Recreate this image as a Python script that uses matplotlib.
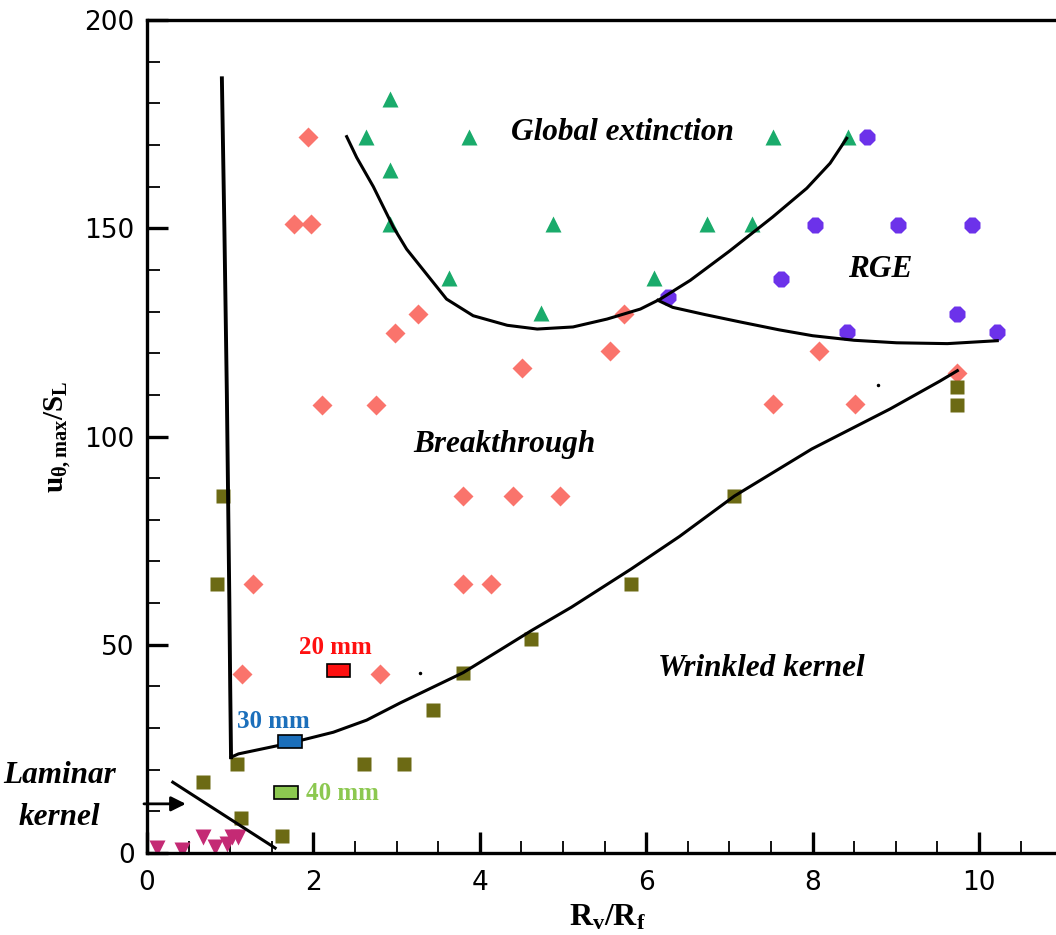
import matplotlib
matplotlib.use("Agg")
import matplotlib.pyplot as plt
from matplotlib.patches import Rectangle

# ---------------- data ----------------
# Global extinction (green up-triangles)
ge_x = [2.92, 2.63, 3.87, 2.92, 2.92, 3.63, 4.74, 4.88, 6.09, 6.73, 7.27, 7.52, 8.43]
ge_y = [181, 172, 172, 164, 151, 138, 129.6, 151, 138, 151, 151, 172, 172]

# RGE (purple circles)
rge_x = [8.65, 8.03, 9.03, 9.92, 7.62, 6.26, 9.74, 8.41, 10.22]
rge_y = [172, 150.7, 150.7, 150.7, 137.8, 133.5, 129.4, 125, 125]

# Breakthrough (salmon diamonds)
bt_x = [1.94, 1.77, 1.97, 3.26, 2.98, 4.51, 5.56, 5.73, 2.10, 2.75, 3.80, 4.40, 4.96,
        1.28, 3.80, 4.13, 8.08, 7.53, 8.51, 9.74, 1.14, 2.80]
bt_y = [172, 151, 151, 129.4, 124.8, 116.4, 120.5, 129.4, 107.5, 107.5, 85.7, 85.7, 85.7,
        64.6, 64.6, 64.6, 120.5, 107.8, 107.8, 115.2, 43, 43]

# Wrinkled kernel (olive squares)
wk_x = [0.91, 0.84, 5.82, 9.74, 9.74, 7.06, 4.62, 1.08, 0.67, 1.13, 1.62, 2.61, 3.09, 3.44, 3.80]
wk_y = [85.7, 64.6, 64.6, 111.9, 107.5, 85.7, 51.4, 21.4, 17, 8.4, 4.1, 21.4, 21.4, 34.3, 43.2]

# Laminar kernel (magenta down-triangles)
lk_x = [0.12, 0.42, 0.67, 0.82, 0.96, 1.02, 1.09]
lk_y = [1.2, 0.7, 3.8, 1.4, 2.2, 3.8, 3.8]

# Regime boundaries
vert_x = [0.90, 0.93, 0.96, 0.99, 1.00, 1.01]
vert_y = [186, 150, 110, 60, 40, 23]

wrinkle_x = [1.01, 1.10, 1.72, 2.24, 2.64, 3.04, 3.80, 4.24, 4.62, 5.10, 5.82, 6.40, 7.06, 7.99, 8.93, 9.53, 9.74]
wrinkle_y = [23.0, 23.8, 26.4, 29.0, 31.9, 36.0, 43.3, 48.7, 53.4, 59.0, 68.2, 76.0, 85.7, 97.0, 106.6, 113.3, 115.8]

lam_x = [0.31, 1.54]
lam_y = [17.0, 1.2]

ext_x = [2.40, 2.52, 2.72, 2.96, 3.12, 3.32, 3.60, 3.92, 4.33, 4.69, 5.12, 5.53, 5.93,
         6.17, 6.53, 7.00, 7.52, 7.93, 8.21, 8.41]
ext_y = [172.0, 167.0, 160.0, 150.3, 145.0, 140.0, 133.0, 129.0, 126.7, 125.8, 126.3, 128.2, 130.6,
         133.0, 137.5, 144.5, 152.7, 159.6, 165.6, 171.6]

rgeb_x = [6.14, 6.32, 6.70, 7.13, 7.60, 8.00, 8.50, 9.01, 9.62, 10.22]
rgeb_y = [132.7, 131.0, 129.3, 127.5, 125.6, 124.2, 123.1, 122.5, 122.3, 123.0]

stray_x = [3.28, 8.79]
stray_y = [43.2, 112.3]

# size labels: box extents, text, colour
box_names = ["20 mm", "30 mm", "40 mm"]
box_x0 = [2.16, 1.57, 1.53]
box_x1 = [2.44, 1.86, 1.81]
box_y0 = [42.2, 25.2, 13.0]
box_y1 = [45.3, 28.3, 16.1]
box_colors = ["#ff1010", "#1b6fbb", "#8cc850"]

x_ticks = [0, 2, 4, 6, 8, 10]
y_ticks = [0, 50, 100, 150, 200]

# ---------------- figure ----------------
plt.rcParams["mathtext.fontset"] = "custom"
plt.rcParams["mathtext.rm"] = "Liberation Serif:bold"
plt.rcParams["mathtext.it"] = "Liberation Serif:bold"
plt.rcParams["mathtext.bf"] = "Liberation Serif:bold"

W, H = 1056, 935
fig = plt.figure(figsize=(W / 100, H / 100), dpi=100)
ax = fig.add_axes([147 / W, 82 / H, (W - 147) / W, (853 - 20) / H])
ax.set_xlim(0, (W - 147) / 83.2)
ax.set_ylim(0, 200)

ax.spines["right"].set_visible(False)
for s in ["left", "bottom", "top"]:
    ax.spines[s].set_linewidth(2.4)

ax.set_xticks(x_ticks)
ax.set_yticks(y_ticks)
ax.set_xticks([v / 2 for v in range(0, 22) if v % 4 != 0], minor=True)
ax.set_yticks([v for v in range(0, 201, 10) if v % 50 != 0], minor=True)
ax.tick_params(which="major", direction="in", length=15, width=2.4, labelsize=19)
ax.tick_params(axis="x", which="major", pad=12)
ax.tick_params(axis="y", which="major", pad=9)
ax.tick_params(which="minor", direction="in", length=9, width=1.3)
for lab in ax.get_xticklabels() + ax.get_yticklabels():
    lab.set_family("DejaVu Sans")

# boundaries
lw = 2.2
ax.plot(vert_x, vert_y, color="black", lw=2.8, zorder=3)
ax.plot(wrinkle_x, wrinkle_y, color="black", lw=lw, zorder=3)
ax.plot(lam_x, lam_y, color="black", lw=lw, zorder=3)
ax.plot(ext_x, ext_y, color="black", lw=lw, zorder=3)
ax.plot(rgeb_x, rgeb_y, color="black", lw=lw, zorder=3)
ax.plot(stray_x, stray_y, "k.", ms=3, zorder=3)

# markers
ax.plot(ge_x, ge_y, "^", color="#1aab6b", ms=11, mec="none", zorder=2)
ax.plot(rge_x, rge_y, "8", color="#6c32ea", ms=13, mec="none", zorder=2)
ax.plot(bt_x, bt_y, "D", color="#fa746c", ms=10.5, mec="none", zorder=2)
ax.plot(wk_x, wk_y, "s", color="#6c6a14", ms=10.5, mec="none", zorder=2)
ax.plot(lk_x, lk_y, "v", color="#c42a74", ms=12, mec="none", zorder=2)

# size boxes
for nm, x0, x1, y0, y1, c in zip(box_names, box_x0, box_x1, box_y0, box_y1, box_colors):
    ax.add_patch(Rectangle((x0, y0), x1 - x0, y1 - y0, facecolor=c,
                           edgecolor="black", lw=1.2, zorder=4))
tb = dict(family="Liberation Serif", weight="bold", fontsize=18)
ax.text(2.27, 49.4, box_names[0], color=box_colors[0], ha="center", va="center", **tb)
ax.text(1.52, 31.5, box_names[1], color=box_colors[1], ha="center", va="center", **tb)
ax.text(1.91, 14.4, box_names[2], color=box_colors[2], ha="left", va="center", **tb)

# regime labels
rl = dict(family="Liberation Serif", weight="bold", style="italic", fontsize=22.5,
          ha="center", va="center", color="black")
ax.text(5.72, 173, "Global extinction", **rl)
ax.text(8.81, 140, "RGE", **rl)
ax.text(4.30, 98, "Breakthrough", **rl)
ax.text(7.38, 44.4, "Wrinkled kernel", **rl)
ax.text(-1.05, 18.7, "Laminar", clip_on=False, **rl)
ax.text(-1.05, 8.6, "kernel", clip_on=False, **rl)

ax.annotate("", xy=(0.50, 11.8), xytext=(-0.07, 11.8),
            arrowprops=dict(arrowstyle="-|>", color="black", lw=2, mutation_scale=22),
            annotation_clip=False)

ax.set_xlabel(r"$R_v/R_f$", fontsize=23)
ax.xaxis.set_label_coords(0.506, -0.058)
ax.set_ylabel(r"$u_{\theta,max}/S_L$", fontsize=21, labelpad=8)

fig.savefig("out.png", dpi=100)
